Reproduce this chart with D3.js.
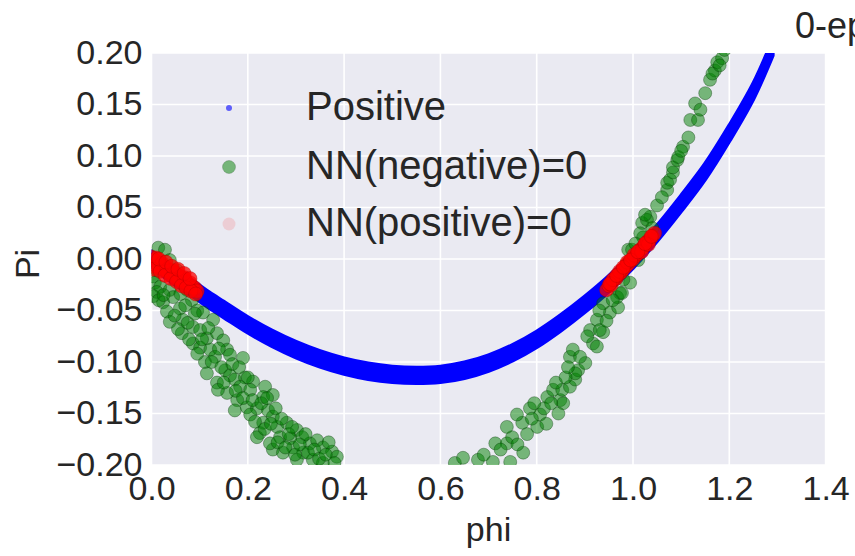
<!DOCTYPE html>
<html>
<head>
<meta charset="utf-8">
<script src="https://cdn.jsdelivr.net/npm/d3@7"></script>
<style>
  body { margin: 0; background: #fff; }
  text { font-family: "Liberation Sans", Arial, sans-serif; fill: #262626; }
</style>
</head>
<body>
<script>
// tick labels
var xTicks = [0.0, 0.2, 0.4, 0.6, 0.8, 1.0, 1.2, 1.4];
var yTicks = [-0.20, -0.15, -0.10, -0.05, 0.00, 0.05, 0.10, 0.15, 0.20];

// Positive (dense blue band)
var posPhi = [0.00, 0.03, 0.06, 0.09, 0.12, 0.15, 0.20, 0.25, 0.30, 0.35, 0.40, 0.45, 0.50, 0.55, 0.60, 0.65, 0.70, 0.75, 0.80, 0.85, 0.90, 0.95, 1.00, 1.05, 1.10, 1.15, 1.20, 1.25, 1.29];
var posPi  = [0.000, -0.011, -0.021, -0.030, -0.040, -0.049, -0.064, -0.077, -0.088, -0.097, -0.104, -0.109, -0.112, -0.113, -0.112, -0.108, -0.101, -0.091, -0.078, -0.062, -0.044, -0.024, -0.001, 0.025, 0.054, 0.085, 0.122, 0.163, 0.205];

// NN(negative)=0 (green)
var negPhi = [0.014, 0.028, 0.038, 0.011, 0.053, 0.003, 0.007, 0.018, 0.038, 0.074, 0.011, 0.024, 0.045, 0.084, 0.059, 0.032, 0.095, 0.065, 0.038, 0.107,
  0.086, 0.063, 0.101, 0.128, 0.086, 0.115, 0.136, 0.149, 0.101, 0.122, 0.157, 0.132, 0.111, 0.163, 0.190, 0.115, 0.153, 0.163, 0.136, 0.173,
  0.194, 0.211, 0.184, 0.157, 0.138, 0.205, 0.236, 0.232, 0.252, 0.178, 0.198, 0.173, 0.219, 0.205, 0.242, 0.252, 0.232, 0.225, 0.261, 0.281,
  0.302, 0.267, 0.288, 0.313, 0.329, 0.344, 0.294, 0.252, 0.273, 0.315, 0.356, 0.375, 0.385, 0.335, 0.302, 0.356, 0.246, 0.219,
  0.004, 0.015, 0.025, 0.048, 0.055, 0.070, 0.075, 0.078, 0.090, 0.095, 0.105, 0.118, 0.125, 0.140, 0.145, 0.150, 0.168, 0.175, 0.182, 0.190,
  0.200, 0.210, 0.215, 0.228, 0.235, 0.240, 0.248, 0.258, 0.262, 0.270, 0.278, 0.285, 0.292, 0.298, 0.308, 0.320, 0.325, 0.338, 0.348, 0.362,
  0.368, 0.380, 0.060,
  0.630, 0.647, 0.678, 0.709, 0.745, 0.714, 0.738, 0.772, 0.749, 0.738, 0.801, 0.770, 0.759, 0.807, 0.786, 0.822, 0.849, 0.834, 0.853, 0.869,
  0.855, 0.880, 0.886, 0.880, 0.901, 0.869, 0.875, 0.917, 0.911, 0.938, 0.925, 0.952, 0.938, 0.969, 0.967, 0.994, 0.990, 1.019, 1.021, 1.036,
  1.050, 1.029, 1.071, 1.071, 1.077, 1.083, 1.083, 1.092, 1.094, 1.104, 1.115, 1.119, 1.135, 1.129, 1.150, 1.160, 1.170, 1.175, 1.185,
  1.015, 0.998, 0.988, 0.973, 0.931, 1.025, 1.011, 0.977,
  0.690, 0.725, 0.760, 0.780, 0.790, 0.815, 0.795, 0.830, 0.840, 0.860, 0.820, 0.845, 0.865, 0.890, 0.905, 0.925, 0.945, 0.958, 0.980, 1.005,
  1.040, 1.060, 1.100, 1.140, 1.165, 1.180, 0.930, 1.190];
var negPi  = [0.011, 0.009, -0.001, -0.011, -0.011, -0.017, -0.023, -0.027, -0.030, -0.030, -0.032, -0.042, -0.037, -0.040, -0.048, -0.051, -0.050, -0.059, -0.061, -0.052,
  -0.066, -0.072, -0.069, -0.059, -0.082, -0.077, -0.072, -0.079, -0.086, -0.088, -0.088, -0.095, -0.100, -0.093, -0.096, -0.111, -0.108, -0.113, -0.120, -0.117,
  -0.115, -0.119, -0.124, -0.130, -0.127, -0.127, -0.124, -0.134, -0.132, -0.137, -0.144, -0.147, -0.145, -0.151, -0.147, -0.153, -0.159, -0.169, -0.163, -0.159,
  -0.166, -0.173, -0.174, -0.173, -0.179, -0.176, -0.183, -0.185, -0.188, -0.188, -0.183, -0.187, -0.192, -0.195, -0.195, -0.198, -0.179, -0.173,
  -0.036, -0.040, -0.035, -0.055, -0.068, -0.045, -0.062, -0.078, -0.053, -0.092, -0.078, -0.067, -0.100, -0.087, -0.105, -0.120, -0.102, -0.128, -0.105, -0.135,
  -0.115, -0.137, -0.158, -0.140, -0.165, -0.135, -0.160, -0.145, -0.178, -0.155, -0.183, -0.170, -0.163, -0.190, -0.180, -0.170, -0.188, -0.185, -0.194, -0.190,
  -0.178, -0.198, -0.034,
  -0.198, -0.193, -0.195, -0.197, -0.197, -0.179, -0.179, -0.188, -0.173, -0.163, -0.163, -0.159, -0.151, -0.151, -0.145, -0.134, -0.137, -0.127, -0.127, -0.124,
  -0.140, -0.117, -0.108, -0.111, -0.101, -0.095, -0.088, -0.082, -0.069, -0.071, -0.059, -0.052, -0.043, -0.047, -0.037, -0.023, 0.009, 0.035, 0.021, 0.041,
  0.052, 0.038, 0.067, 0.074, 0.077, 0.084, 0.089, 0.096, 0.099, 0.109, 0.118, 0.135, 0.135, 0.151, 0.161, 0.174, 0.183, 0.191, 0.195,
  0.025, 0.009, -0.004, -0.033, -0.069, 0.043, -0.001, -0.033,
  -0.190, -0.185, -0.180, -0.170, -0.155, -0.145, -0.140, -0.140, -0.120, -0.115, -0.160, -0.150, -0.105, -0.095, -0.075, -0.085, -0.060, -0.040, -0.020, 0.015,
  0.030, 0.060, 0.105, 0.145, 0.180, 0.188, -0.050, 0.203];

// NN(positive)=0 (red)
var nnPosPhi = [0.000, 0.000, 0.005, 0.008, 0.012, 0.015, 0.020, 0.025, 0.030, 0.035, 0.040, 0.045, 0.050, 0.055, 0.060, 0.065, 0.070, 0.075, 0.080, 0.085, 0.090, 0.095, 0.010, 0.022, 0.033, 0.047, 0.058, 0.068,
  0.003, 0.018, 0.028, 0.040, 0.052, 0.062, 0.072, 0.082, 0.092, 0.015, 0.030, 0.042, 0.055, 0.068, 0.080,
  0.945, 0.950, 0.955, 0.960, 0.965, 0.970, 0.975, 0.980, 0.985, 0.990, 0.995, 1.000, 1.005, 1.010, 1.015, 1.020, 1.025, 1.030, 1.035, 1.040, 1.045, 0.958, 0.972, 0.988, 1.002, 1.018, 1.032,
  0.952, 0.966, 0.980, 0.995, 1.010, 1.025, 1.038];
var nnPosPi  = [0.002, -0.007, -0.001, -0.006, -0.002, -0.008, -0.005, -0.010, -0.008, -0.013, -0.011, -0.016, -0.014, -0.019, -0.017, -0.022, -0.020, -0.024, -0.023, -0.027, -0.028, -0.031, 0.001, -0.004, -0.012, -0.012, -0.020, -0.018,
  -0.010, -0.012, -0.016, -0.019, -0.022, -0.026, -0.028, -0.031, -0.034, 0.000, -0.003, -0.007, -0.010, -0.014, -0.019,
  -0.030, -0.026, -0.025, -0.020, -0.019, -0.015, -0.013, -0.010, -0.007, -0.005, -0.002, 0.000, 0.003, 0.005, 0.009, 0.011, 0.014, 0.017, 0.019, 0.022, 0.025, -0.020, -0.012, -0.003, 0.004, 0.007, 0.014,
  -0.024, -0.016, -0.008, -0.001, 0.007, 0.015, 0.022];

var legendLabels = ["Positive", "NN(negative)=0", "NN(positive)=0"];

var W = 855, H = 556;
var margin = {left: 151.5, right: 29.4, top: 53, bottom: 91};

var svg = d3.select("body").append("svg")
  .attr("width", W)
  .attr("height", H)
  .attr("xmlns", "http://www.w3.org/2000/svg");

var x = d3.scaleLinear().domain([0, 1.4]).range([margin.left, W - margin.right]);
var y = d3.scaleLinear().domain([-0.2, 0.2]).range([H - margin.bottom, margin.top]);

// background + grid
svg.append("rect")
  .attr("x", x(0)).attr("y", y(0.2))
  .attr("width", x(1.4) - x(0)).attr("height", y(-0.2) - y(0.2))
  .attr("fill", "#eaeaf2");

svg.append("clipPath").attr("id", "plotclip")
  .append("rect")
  .attr("x", x(0)).attr("y", y(0.2))
  .attr("width", x(1.4) - x(0)).attr("height", y(-0.2) - y(0.2));

var grid = svg.append("g");
grid.selectAll(".gx").data(xTicks).enter().append("line")
  .attr("x1", function(d) { return x(d); }).attr("x2", function(d) { return x(d); })
  .attr("y1", y(0.2)).attr("y2", y(-0.2))
  .attr("stroke", "#fff").attr("stroke-width", 1.6);
grid.selectAll(".gy").data(yTicks).enter().append("line")
  .attr("y1", function(d) { return y(d); }).attr("y2", function(d) { return y(d); })
  .attr("x1", x(0)).attr("x2", x(1.4))
  .attr("stroke", "#fff").attr("stroke-width", 1.6);

// axes (labels only, seaborn style)
var xAxis = svg.append("g")
  .attr("transform", "translate(0," + y(-0.2) + ")")
  .call(d3.axisBottom(x).tickValues(xTicks).tickFormat(d3.format(".1f")).tickSize(0).tickPadding(0));
xAxis.select(".domain").remove();
xAxis.selectAll("text")
  .attr("y", 35).attr("dy", 0)
  .style("font-size", "34px")
  .attr("fill", "#262626");

var yAxis = svg.append("g")
  .attr("transform", "translate(" + x(0) + ",0)")
  .call(d3.axisLeft(y).tickValues(yTicks).tickFormat(function(d) { return d3.format(".2f")(d).replace("-", "\u2212"); }).tickSize(0).tickPadding(0));
yAxis.select(".domain").remove();
yAxis.selectAll("text")
  .attr("x", -9).attr("dy", 10)
  .style("font-size", "34px")
  .attr("fill", "#262626");

var plot = svg.append("g").attr("clip-path", "url(#plotclip)");

// Positive: dense scatter shown as a band
var pos = posPhi.map(function(d, i) { return {phi: d, pi: posPi[i]}; });
var band = d3.area()
  .x(function(d) { return x(d.phi); })
  .y0(function(d) { return y(d.pi - 0.0075); })
  .y1(function(d) { return y(d.pi + 0.0075); })
  .curve(d3.curveCatmullRom);
plot.append("path")
  .datum(pos)
  .attr("d", band)
  .attr("fill", "#0000ff")
  .attr("stroke", "#0000ff")
  .attr("stroke-width", 4)
  .attr("stroke-linejoin", "round");

// NN(negative)=0
var neg = negPhi.map(function(d, i) { return {phi: d, pi: negPi[i]}; });
plot.selectAll(".neg").data(neg).enter().append("circle")
  .attr("class", "neg")
  .attr("cx", function(d) { return x(d.phi); })
  .attr("cy", function(d) { return y(d.pi); })
  .attr("r", 6.5)
  .attr("fill", "#008000")
  .attr("fill-opacity", 0.5)
  .attr("stroke", "#003300")
  .attr("stroke-opacity", 0.35)
  .attr("stroke-width", 1);

// NN(positive)=0
var nnPos = nnPosPhi.map(function(d, i) { return {phi: d, pi: nnPosPi[i]}; });
plot.selectAll(".nnpos").data(nnPos).enter().append("circle")
  .attr("class", "nnpos")
  .attr("cx", function(d) { return x(d.phi); })
  .attr("cy", function(d) { return y(d.pi); })
  .attr("r", 7)
  .attr("fill", "#ff0000")
  .attr("fill-opacity", 0.75)
  .attr("stroke", "#990000")
  .attr("stroke-opacity", 0.3)
  .attr("stroke-width", 1);

// legend
var leg = svg.append("g");
var legY = [108, 167, 224];
leg.append("circle").attr("cx", 229).attr("cy", legY[0]).attr("r", 3).attr("fill", "#0000ff").attr("fill-opacity", 0.6);
leg.append("circle").attr("cx", 229).attr("cy", legY[1]).attr("r", 6.5).attr("fill", "#008000").attr("fill-opacity", 0.5)
  .attr("stroke", "#003300").attr("stroke-opacity", 0.2);
leg.append("circle").attr("cx", 229).attr("cy", legY[2]).attr("r", 6.5).attr("fill", "#ff0000").attr("fill-opacity", 0.12);
leg.selectAll(".lt").data(legendLabels).enter().append("text")
  .attr("x", 306)
  .attr("y", function(d, i) { return legY[i] + 12; })
  .style("font-size", "40px")
  .text(function(d) { return d; });

// axis titles
svg.append("text")
  .attr("x", (x(0) + x(1.4)) / 2).attr("y", 541)
  .attr("text-anchor", "middle")
  .style("font-size", "34px")
  .text("phi");
svg.append("text")
  .attr("transform", "translate(39,264) rotate(-90)")
  .attr("text-anchor", "middle")
  .style("font-size", "34px")
  .text("Pi");

// title (cut off at the right edge in the original)
svg.append("text")
  .attr("x", 795).attr("y", 38)
  .style("font-size", "36px")
  .text("0-epoch");
</script>
</body>
</html>
